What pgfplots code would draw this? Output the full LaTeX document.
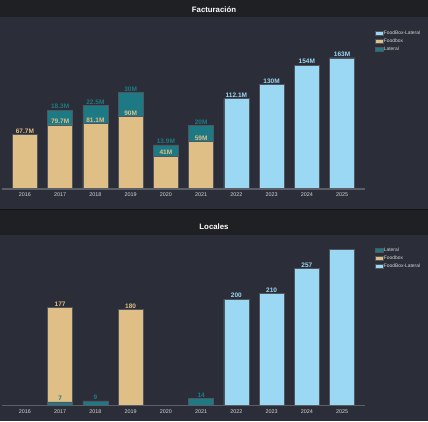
\documentclass[border=0pt]{standalone}
\usepackage{pgfplots}
\pgfplotsset{compat=1.18}
\usepackage{fontspec}
\setmainfont{Liberation Sans}
\definecolor{titlebg}{HTML}{1F2024}
\definecolor{panelbg}{HTML}{2B2E38}
\definecolor{tanc}{HTML}{E0BF87}
\definecolor{tealc}{HTML}{1D7A85}
\definecolor{lblue}{HTML}{9BD8F3}
\definecolor{edge}{HTML}{50555E}
\definecolor{axisgray}{HTML}{5A5E67}
\definecolor{ticktext}{HTML}{D5D5D5}
\pgfplotsset{
 sq/.style={legend image code/.code={\draw[##1, line width=0.5pt] (0pt,-2pt) rectangle (7.5pt,2pt);}},
 panelbase/.style={
   scale only axis, width=363pt, anchor=south west,
   xmin=-0.65, xmax=9.65, ymin=0,
   clip=false,
 },
 barsaxis/.style={
   panelbase,
   ybar stacked, bar width=0.71,
   axis x line=bottom, axis y line=none,
   x axis line style={-, draw=axisgray, line width=1.4pt},
   xtick={0,...,9},
   xticklabels={2016,2017,2018,2019,2020,2021,2022,2023,2024,2025},
   major tick length=0pt,
   xticklabel style={font=\fontsize{5.4}{6}\selectfont, text=ticktext},
   ytick=\empty,
   axis on top,
   /pgf/number format/assume math mode=true,
   legend style={draw=none, fill=none, anchor=north west,
     font=\fontsize{4.9}{5}\selectfont, text=ticktext,
     row sep=1.3pt, nodes={inner sep=0.8pt}},
   legend cell align=left,
 },
 labaxis/.style={
   panelbase, hide axis,
   stack plots=y,
   point meta=explicit symbolic,
   nodes near coords,
   nodes near coords style={font=\bfseries\fontsize{6.5}{7}\selectfont, anchor=south, inner sep=1pt},
 },
}
\begin{document}
\begin{tikzpicture}[x=1pt,y=1pt]
\useasboundingbox (0,0) rectangle (428,421);
\fill[panelbg] (0,0) rectangle (428,421);
\fill[titlebg] (0,403.5) rectangle (428,421);
\fill[titlebg] (0,186) rectangle (428,211);
\draw[black!60!panelbg, line width=0.8pt] (0,211.4) -- (428,211.4);
\node[font=\bfseries\fontsize{7.8}{9}\selectfont, text=white] at (214,411.5) {Facturación};
\node[font=\bfseries\fontsize{7.8}{9}\selectfont, text=white] at (214,194) {Locales};

% ---------- Facturación ----------
\begin{axis}[barsaxis, at={(2pt,232pt)}, height=169pt, ymax=210,
  legend style={at={(rel axis cs:1.019,0.955)}}]
\addlegendimage{sq, fill=lblue, draw=edge}
\addlegendentry{FoodBox-Lateral}
\addlegendimage{sq, fill=tanc, draw=edge}
\addlegendentry{Foodbox}
\addlegendimage{sq, fill=tealc, draw=edge}
\addlegendentry{Lateral}
\addplot[fill=tanc, draw=edge, line width=0.6pt, forget plot] coordinates
 {(0,67.7) (1,79.7) (2,81.1) (3,90) (4,41) (5,59) (6,0) (7,0) (8,0) (9,0)};
\addplot[fill=tealc, draw=edge, line width=0.6pt, forget plot] coordinates
 {(0,0) (1,18.3) (2,22.5) (3,30) (4,13.9) (5,20) (6,0) (7,0) (8,0) (9,0)};
\addplot[fill=lblue, draw=edge, line width=0.6pt, forget plot] coordinates
 {(0,0) (1,0) (2,0) (3,0) (4,0) (5,0) (6,112.1) (7,130) (8,154) (9,163)};
\end{axis}
\begin{axis}[labaxis, at={(2pt,232pt)}, height=169pt, ymax=210]
\addplot[draw=none, mark=none, every node near coord/.append style={text=tanc}] coordinates
 {(0,67.7)[67.7M] (1,79.7)[79.7M] (2,81.1)[81.1M] (3,90)[90M] (4,41)[41M] (5,59)[59M] (6,0)[] (7,0)[] (8,0)[] (9,0)[]};
\addplot[draw=none, mark=none, every node near coord/.append style={text=tealc}] coordinates
 {(0,0)[] (1,18.3)[18.3M] (2,22.5)[22.5M] (3,30)[30M] (4,13.9)[13.9M] (5,20)[20M] (6,0)[] (7,0)[] (8,0)[] (9,0)[]};
\addplot[draw=none, mark=none, every node near coord/.append style={text=lblue}] coordinates
 {(0,0)[] (1,0)[] (2,0)[] (3,0)[] (4,0)[] (5,0)[] (6,112.1)[112.1M] (7,130)[130M] (8,154)[154M] (9,163)[163M]};
\end{axis}

% ---------- Locales ----------
\begin{axis}[barsaxis, at={(2pt,15.3pt)}, height=168.4pt, ymax=316,
  legend style={at={(rel axis cs:1.019,0.955)}}]
\addplot[fill=tealc, draw=edge, line width=0.6pt, sq] coordinates
 {(0,0) (1,7) (2,9) (3,0) (4,0) (5,14) (6,0) (7,0) (8,0) (9,0)};
\addlegendentry{Lateral}
\addplot[fill=tanc, draw=edge, line width=0.6pt, sq] coordinates
 {(0,0) (1,177) (2,0) (3,180) (4,0) (5,0) (6,0) (7,0) (8,0) (9,0)};
\addlegendentry{Foodbox}
\addplot[fill=lblue, draw=edge, line width=0.6pt, sq] coordinates
 {(0,0) (1,0) (2,0) (3,0) (4,0) (5,0) (6,200) (7,210) (8,257) (9,293)};
\addlegendentry{FoodBox-Lateral}
\end{axis}
\begin{axis}[labaxis, at={(2pt,15.3pt)}, height=168.4pt, ymax=316]
\addplot[draw=none, mark=none, every node near coord/.append style={text=tealc}] coordinates
 {(0,0)[] (1,7)[7] (2,9)[9] (3,0)[] (4,0)[] (5,14)[14] (6,0)[] (7,0)[] (8,0)[] (9,0)[]};
\addplot[draw=none, mark=none, every node near coord/.append style={text=tanc}] coordinates
 {(0,0)[] (1,177)[177] (2,0)[] (3,180)[180] (4,0)[] (5,0)[] (6,0)[] (7,0)[] (8,0)[] (9,0)[]};
\addplot[draw=none, mark=none, every node near coord/.append style={text=lblue}] coordinates
 {(0,0)[] (1,0)[] (2,0)[] (3,0)[] (4,0)[] (5,0)[] (6,200)[200] (7,210)[210] (8,257)[257] (9,293)[]};
\end{axis}
\end{tikzpicture}
\end{document}
